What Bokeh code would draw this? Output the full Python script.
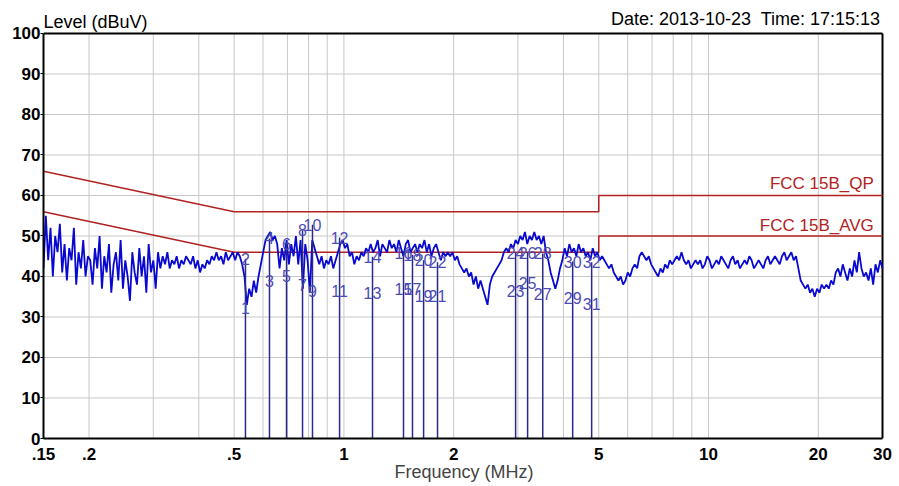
import numpy as np
from bokeh.plotting import figure
from bokeh.models import Range1d, FixedTicker, CustomJSTickFormatter, Label, ColumnDataSource
from bokeh.core.properties import value
from bokeh.embed import file_html
from bokeh.resources import INLINE

F_START, F_STOP = 0.15, 30.0
LEVEL_MIN, LEVEL_MAX = 0, 100

# measured trace level (dBuV), sweep points log-spaced from 0.15 to 30 MHz
trace_level = [
    42, 55, 44, 52, 40, 50, 46, 53, 41, 48, 39, 47, 44, 52, 38, 46, 42, 49, 40, 45,
    44, 38, 47, 42, 50, 37, 45, 41, 48, 36, 43, 46, 39, 49, 37, 44, 40, 34, 46, 41,
    38, 47, 40, 45, 36, 48, 41, 44, 37, 46, 42, 45, 43, 46, 42, 44, 43, 45, 42, 44,
    43, 45, 44, 43, 45, 42, 44, 41, 43, 42, 44, 43, 45, 44, 46, 44, 45, 43, 46, 44,
    45, 46, 44, 46, 45, 43, 40, 33, 37, 35, 39, 36, 40, 43, 46, 49, 50, 51, 49, 50,
    48, 42, 47, 44, 49, 43, 48, 45, 50, 43, 49, 37, 48, 44, 36, 49, 47, 45, 43, 45,
    42, 44, 43, 45, 42, 44, 46, 48, 49, 47, 48, 45, 46, 43, 45, 44, 46, 45, 47, 46,
    48, 46, 47, 49, 45, 48, 47, 46, 49, 47, 48, 46, 49, 47, 45, 48, 49, 46, 47, 48,
    46, 48, 47, 49, 46, 48, 45, 47, 48, 46, 44, 46, 45, 46, 45, 46, 44, 45, 43, 42,
    41, 42, 40, 41, 38, 40, 37, 39, 37, 35, 33, 38, 40, 41, 42, 43, 44, 46, 47, 46,
    48, 47, 49, 48, 50, 49, 51, 48, 50, 49, 51, 49, 50, 48, 50, 46, 44, 41, 39, 37,
    39, 42, 44, 47, 45, 48, 46, 47, 45, 48, 46, 47, 45, 46, 44, 47, 45, 46, 44, 45,
    44, 43, 42, 43, 41, 40, 39, 40, 38, 39, 41, 40, 42, 43, 42, 45, 46, 45, 44, 45,
    43, 42, 41, 40, 42, 41, 43, 42, 44, 43, 44, 45, 44, 46, 44, 43, 44, 42, 43, 44,
    43, 44, 42, 43, 45, 44, 42, 43, 44, 43, 45, 44, 43, 42, 44, 45, 43, 44, 42, 43,
    44, 43, 45, 44, 42, 43, 44, 43, 42, 44, 45, 43, 44, 45, 44, 43, 45, 46, 44, 45,
    46, 44, 45, 42, 39, 38, 37, 38, 36, 37, 35, 37, 36, 38, 37, 38, 37, 39, 38, 41,
    42, 40, 43, 41, 39, 42, 40, 44, 41, 46, 42, 40, 41, 39, 42, 38, 43, 41, 44, 42,
]
trace_freq = np.geomspace(F_START, F_STOP, len(trace_level))

# limit lines
qp_freq = [0.15, 0.5, 5, 5, 30]
qp_level = [66, 56, 56, 60, 60]
avg_freq = [0.15, 0.5, 5, 5, 30]
avg_level = [56, 46, 46, 50, 50]

# markers: odd numbers = AVG reading, even numbers = QP reading
marker_freq = [0.537, 0.625, 0.696, 0.770, 0.820, 0.973, 1.198, 1.457,
               1.542, 1.654, 1.806, 2.957, 3.19, 3.51, 4.24, 4.78]
marker_avg = [32.3, 39.0, 40.2, 38.0, 36.3, 36.5, 36.0, 36.8,
              36.8, 35.3, 35.1, 36.3, 38.5, 35.8, 34.8, 33.3]
marker_qp = [44.4, 49.4, 48.1, 51.4, 52.8, 49.6, 44.9, 45.9,
             45.4, 44.0, 43.5, 45.9, 45.9, 45.7, 43.7, 43.5]

y_ticks = [0, 10, 20, 30, 40, 50, 60, 70, 80, 90, 100]
x_ticks = [0.15, 0.2, 0.5, 1, 2, 5, 10, 20, 30]
x_grid = [0.2, 0.3, 0.4, 0.5, 0.6, 0.7, 0.8, 0.9, 1, 2, 3, 4, 5, 6, 7, 8, 9, 10, 20]
y_grid = [10, 20, 30, 40, 50, 60, 70, 80, 90]

FONT = "Liberation Sans"

# frame extends a little above 100 dB (for header texts) and past 30 MHz (room for border)
p = figure(width=895, height=486, x_axis_type="log",
           x_range=Range1d(F_START, 30.38), y_range=Range1d(LEVEL_MIN, 107.16),
           output_backend="svg", toolbar_location=None, title=None,
           min_border_left=43, min_border_right=11, min_border_top=4, min_border_bottom=48)
p.background_fill_color = "white"
p.border_fill_color = "white"
p.outline_line_color = None
p.xgrid.visible = False
p.ygrid.visible = False

GRID = "#c8c8c8"
p.segment(x0=x_grid, y0=[LEVEL_MIN] * len(x_grid), x1=x_grid, y1=[LEVEL_MAX] * len(x_grid),
          line_color=GRID, line_width=1)
p.segment(x0=[F_START] * len(y_grid), y0=y_grid, x1=[F_STOP] * len(y_grid), y1=y_grid,
          line_color=GRID, line_width=1)

# axes
p.xaxis.ticker = FixedTicker(ticks=x_ticks)
p.xaxis.bounds = (F_START, F_STOP)
p.xaxis.formatter = CustomJSTickFormatter(code="""
const s = String(tick);
return s.startsWith("0.") ? s.slice(1) : s;
""")
p.xaxis.axis_label = "Frequency (MHz)"
p.xaxis.axis_label_text_font = FONT
p.xaxis.axis_label_text_font_size = "18px"
p.xaxis.axis_label_text_font_style = "normal"
p.xaxis.axis_label_standoff = -1
p.xaxis.major_label_standoff = 9
p.xaxis.major_tick_out = 0
p.xaxis.major_tick_in = 0
p.xaxis.minor_tick_out = 0
p.xaxis.minor_tick_in = 0

p.yaxis.ticker = FixedTicker(ticks=y_ticks)
p.yaxis.bounds = (LEVEL_MIN, LEVEL_MAX)
p.yaxis.major_tick_out = 3
p.yaxis.major_tick_in = 0
p.yaxis.minor_tick_out = 0
p.yaxis.minor_tick_in = 0
p.yaxis.major_label_standoff = 0

for ax in (p.xaxis, p.yaxis):
    ax.axis_line_color = "black"
    ax.axis_line_width = 2
    ax.major_tick_line_color = "black"
    ax.major_label_text_font = FONT
    ax.major_label_text_font_size = "17px"
    ax.major_label_text_font_style = "bold"
    ax.major_label_text_color = "black"

# top and right border of the plot box
p.line([F_START, F_STOP], [LEVEL_MAX, LEVEL_MAX], line_color="black", line_width=2)
p.line([F_STOP, F_STOP], [LEVEL_MIN, LEVEL_MAX], line_color="black", line_width=2)

LIMIT_COLOR = "#b22222"
p.line(qp_freq, qp_level, line_color=LIMIT_COLOR, line_width=1.5)
p.line(avg_freq, avg_level, line_color=LIMIT_COLOR, line_width=1.5)

p.line(trace_freq, trace_level, line_color="#0808d0", line_width=1.8)

# marker verticals from QP level down to 0
p.segment(x0=marker_freq, y0=[LEVEL_MIN] * len(marker_freq), x1=marker_freq, y1=marker_qp,
          line_color="#2a2a8c", line_width=1.5)

lab_f, lab_v, lab_t = [], [], []
for i, f in enumerate(marker_freq):
    lab_f += [f, f]
    lab_v += [marker_avg[i], marker_qp[i]]
    lab_t += [str(2 * i + 1), str(2 * i + 2)]
src = ColumnDataSource(dict(f=lab_f, v=lab_v, t=lab_t))
p.text(x="f", y="v", text="t", source=src, text_align="center", text_baseline="middle",
       text_font=value(FONT), text_font_size="16px", text_color="#4b4bb4")

p.add_layout(Label(x=28.4, y=62.96, text="FCC 15B_QP", text_align="right",
                   text_baseline="middle", text_font=FONT, text_font_size="17px",
                   text_color=LIMIT_COLOR))
p.add_layout(Label(x=28.4, y=52.6, text="FCC 15B_AVG", text_align="right",
                   text_baseline="middle", text_font=FONT, text_font_size="17px",
                   text_color=LIMIT_COLOR))

p.add_layout(Label(x=F_START, y=102.96, text="Level (dBuV)", text_align="left",
                   text_baseline="middle", text_font=FONT, text_font_size="18px",
                   text_color="black"))
p.add_layout(Label(x=29.6, y=103.7, text="Date: 2013-10-23\u00a0 Time: 17:15:13", text_align="right",
                   text_baseline="middle", text_font=FONT, text_font_size="18px",
                   text_color="black"))

open("out.html", "w").write(file_html(p, INLINE))
